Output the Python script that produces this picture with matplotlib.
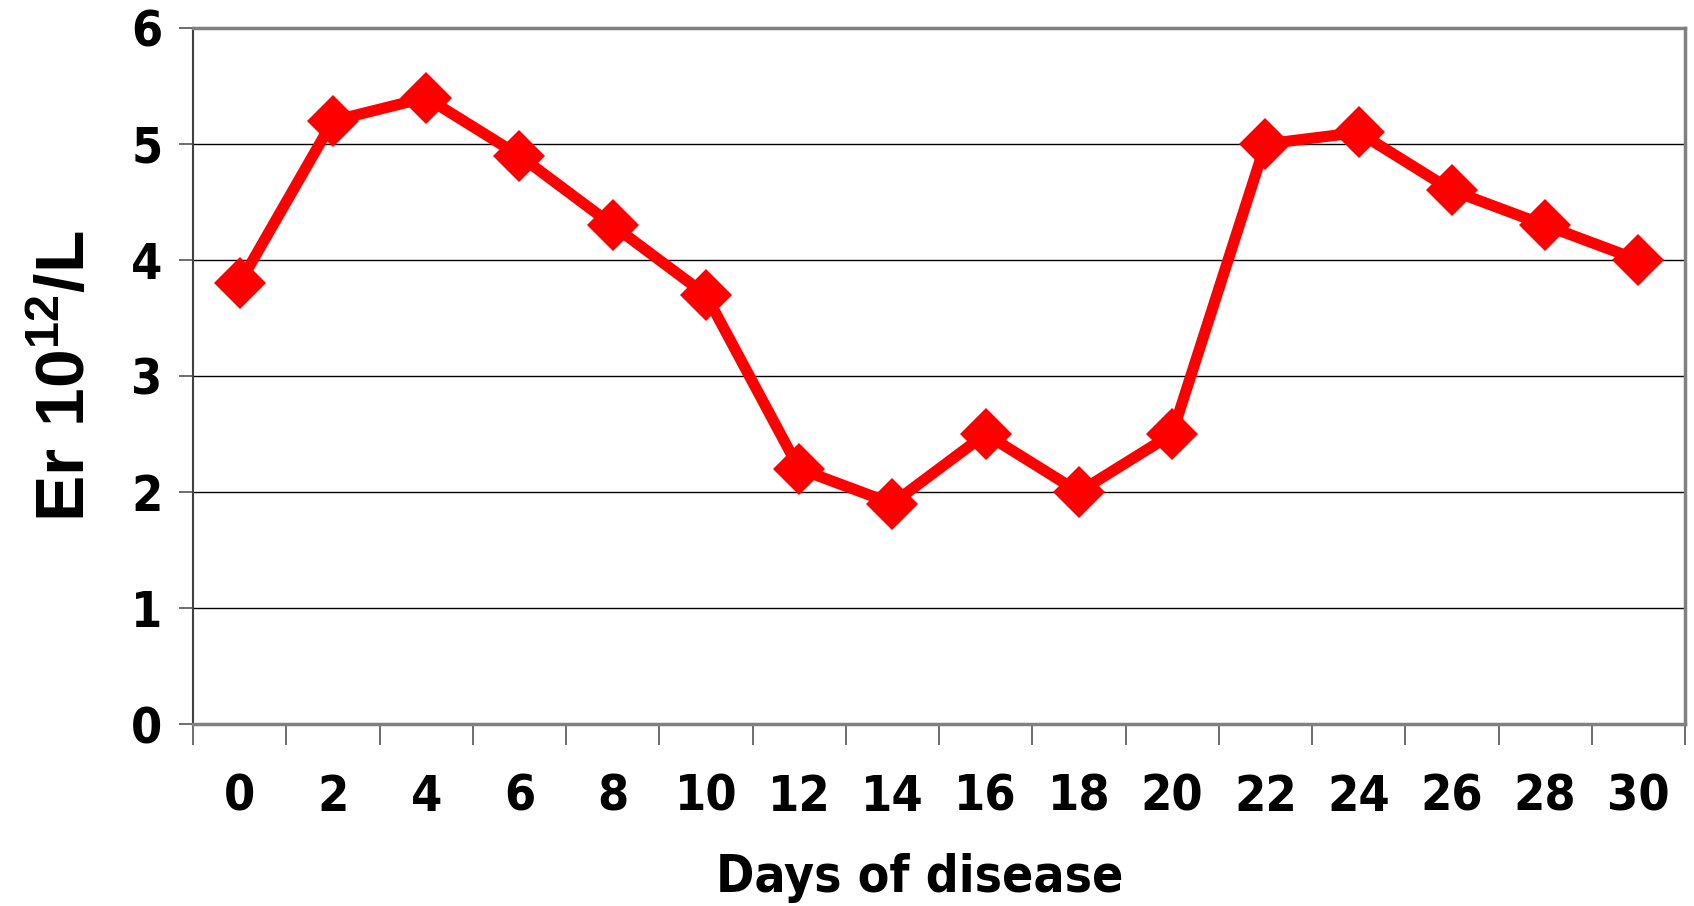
import matplotlib
matplotlib.use("Agg")
import matplotlib.pyplot as plt
from matplotlib import font_manager

days = ["0", "2", "4", "6", "8", "10", "12", "14", "16", "18", "20", "22", "24", "26", "28", "30"]
er_values = [3.8, 5.2, 5.4, 4.9, 4.3, 3.7, 2.2, 1.9, 2.5, 2.0, 2.5, 5.0, 5.1, 4.6, 4.3, 4.0]
y_ticks = [0, 1, 2, 3, 4, 5, 6]

# look for a condensed bold face, fall back to Liberation Sans bold
cond = None
for f in font_manager.fontManager.ttflist:
    n = (f.name + " " + str(f.stretch)).lower()
    if ("narrow" in n or "condensed" in n) and f.weight in ("bold", 700):
        cond = f.fname
        break
if cond:
    tick_font = font_manager.FontProperties(fname=cond, size=36)
    xlab_font = font_manager.FontProperties(fname=cond, size=37)
else:
    tick_font = font_manager.FontProperties(family="Liberation Sans", weight="bold", size=34)
    xlab_font = font_manager.FontProperties(family="Liberation Sans", weight="bold", size=36)

plt.rcParams["mathtext.fontset"] = "custom"
plt.rcParams["mathtext.rm"] = "Liberation Sans:bold"
plt.rcParams["mathtext.bf"] = "Liberation Sans:bold"

fig = plt.figure(figsize=(16.94, 9.06), dpi=100)
ax = fig.add_axes([193 / 1694, 1 - 724 / 906, (1685 - 193) / 1694, (724 - 28) / 906])

x = list(range(len(days)))
ax.plot(x, er_values, color="#ff0000", lw=8, marker="D", ms=26,
        markeredgewidth=0, zorder=3, clip_on=False)

ax.set_xlim(-0.5, len(days) - 0.5)
ax.set_ylim(0, 6)
ax.set_yticks(y_ticks)
ax.set_yticklabels([str(v) for v in y_ticks], fontproperties=tick_font)
ax.yaxis.grid(True, color="black", lw=1.0)
ax.set_axisbelow(True)

ax.set_xticks(x)
ax.set_xticklabels(days, fontproperties=tick_font)
ax.set_xticks([i - 0.5 for i in range(len(days) + 1)], minor=True)
ax.tick_params(axis="x", which="major", length=0, pad=35)
ax.tick_params(axis="x", which="minor", length=15, width=1.2, color="#555555")
ax.tick_params(axis="y", length=10, width=1.2, color="#555555", pad=12)

for side in ["top", "right", "bottom"]:
    ax.spines[side].set_color("#808080")
    ax.spines[side].set_linewidth(2.5)
ax.spines["left"].set_color("#404040")
ax.spines["left"].set_linewidth(1.5)

ax.set_xlabel("Days of disease", fontproperties=xlab_font)
ax.xaxis.set_label_coords(0.487, -0.185)
ax.set_ylabel(r"$\mathbf{Er\ 10^{12}/L}$", fontsize=50)
ax.yaxis.set_label_coords(-0.063, 0.5)

fig.savefig("out.png", dpi=100)
